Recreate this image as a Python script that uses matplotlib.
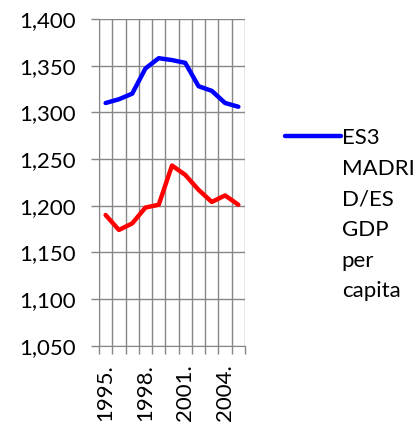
import matplotlib
matplotlib.use("Agg")
import matplotlib.pyplot as plt
from matplotlib.ticker import FixedLocator, FuncFormatter

# Values
years = ["1995.", "1996.", "1997.", "1998.", "1999.", "2000.",
         "2001.", "2002.", "2003.", "2004.", "2005."]
madrid_gdp = [1310, 1314, 1320, 1347, 1358, 1356, 1353, 1328, 1323, 1310, 1306]
other_gdp = [1190, 1174, 1181, 1198, 1201, 1243, 1233, 1217, 1204, 1211, 1201]
y_ticks = [1050, 1100, 1150, 1200, 1250, 1300, 1350, 1400]
legend_first = "ES3"
legend_rest = "MADRI\nD/ES\nGDP\nper\ncapita"

plt.rcParams['font.family'] = ['Lato', 'DejaVu Sans']
grid_col = '#868686'
fs = 16

fig = plt.figure(figsize=(4.2, 4.25), dpi=100)
ax = fig.add_axes([0.2357, 0.1866, 0.3476, 0.7687])

x = list(range(len(years)))
ax.plot(x, madrid_gdp, color='#0000FF', lw=3.2, solid_capstyle='round',
        solid_joinstyle='round', label=legend_first, zorder=3)
ax.plot(x, other_gdp, color='#FF0000', lw=3.2, solid_capstyle='round',
        solid_joinstyle='round', zorder=3)

ax.set_xlim(-0.5, len(years) - 0.5)
ax.set_ylim(1050, 1400)

# category boundaries carry the grid, labels every third year
ax.xaxis.set_minor_locator(FixedLocator([i - 0.5 for i in range(len(years) + 1)]))
ax.set_xticks(x[::3])
ax.set_xticklabels(years[::3], rotation=90, va='top', fontsize=fs)
ax.tick_params(axis='x', which='major', length=0, pad=13)
ax.tick_params(axis='x', which='minor', length=6, width=1, color=grid_col)
ax.grid(True, axis='x', which='minor', color=grid_col, lw=1)

ax.set_yticks(y_ticks)
ax.yaxis.set_major_formatter(FuncFormatter(lambda v, p: f"{int(v):,}"))
ax.tick_params(axis='y', length=6, width=1, color=grid_col, labelsize=fs, pad=11)
ax.grid(True, axis='y', which='major', color=grid_col, lw=1)

for side in ['top', 'right']:
    ax.spines[side].set_visible(False)
for side in ['left', 'bottom']:
    ax.spines[side].set_color(grid_col)
ax.set_axisbelow(True)

leg = ax.legend(loc='center left', bbox_to_anchor=(1.274, 0.636), frameon=False,
                fontsize=fs, handlelength=2.5, handletextpad=0.05,
                borderaxespad=0, borderpad=0)

# wrapped legend label continues under the first line, as in the source
fig.canvas.draw()
bb = leg.get_texts()[0].get_window_extent()
fig.text(bb.x0 / fig.bbox.width, (bb.y0 - 11) / fig.bbox.height, legend_rest,
         ha='left', va='top', fontsize=fs, linespacing=1.66)

fig.savefig("out.png", dpi=100)
